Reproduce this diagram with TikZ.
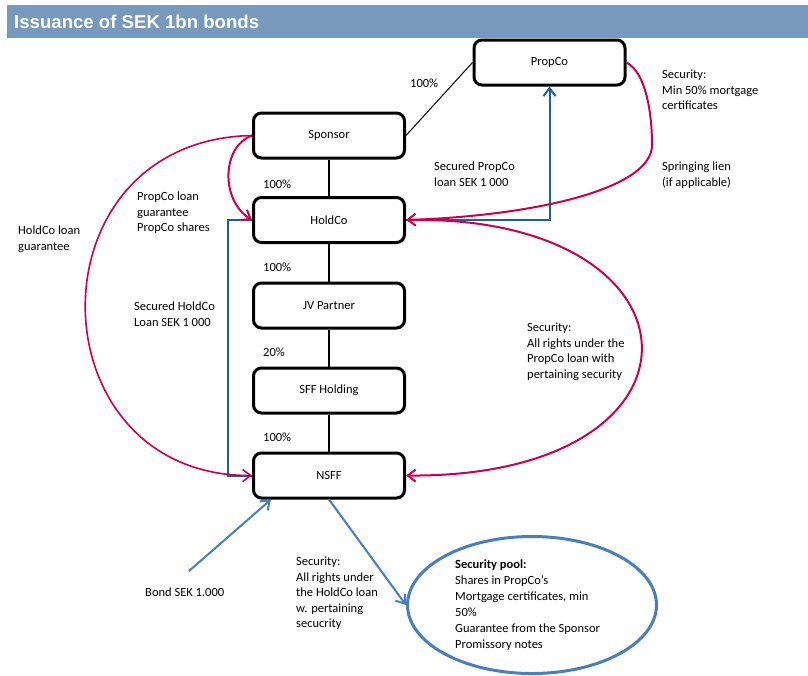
\documentclass[tikz,border=0pt]{standalone}
\usepackage{fontspec}
\setmainfont{Carlito}
\newfontfamily\titlefont{Liberation Sans}
\usetikzlibrary{arrows.meta,shapes.geometric}
\definecolor{barcol}{RGB}{119,153,188}
\definecolor{mag}{RGB}{198,0,80}
\definecolor{dblue}{RGB}{31,96,146}
\definecolor{lblue}{RGB}{74,126,187}
\begin{document}
\begin{tikzpicture}[x=1pt,y=-1pt,
  ent/.style={draw, line width=3pt, rounded corners=8pt, minimum width=151pt,
    minimum height=45pt, inner sep=0pt, font=\fontsize{12.5}{15.5}\selectfont},
  lbl/.style={anchor=north west, align=left, inner sep=0pt,
    font=\fontsize{12.5}{15.5}\selectfont},
  pct/.style={anchor=west, inner sep=0pt, font=\fontsize{12.5}{15.5}\selectfont},
  own/.style={line width=2.2pt},
  tip/.style={-{Straight Barb[length=8pt,width=12pt]}},
  magline/.style={draw=mag, line width=2pt, tip},
  dline/.style={draw=dblue, line width=2pt},
  lline/.style={draw=lblue, line width=2pt, tip}]
\useasboundingbox (0,0) rectangle (808,675);
\clip (0,0) rectangle (808,675);
% title bar
\fill[barcol] (7,5) rectangle (808,38);
\node[anchor=west, inner sep=0pt, text=white,
  font=\titlefont\bfseries\fontsize{18.6}{21}\selectfont] (title) at (14,21.5) {Issuance of SEK 1bn bonds};
% entities
\node[ent] (prop) at (549.5,62.5) {PropCo};
\node[ent] (spon) at (329,135.5) {Sponsor};
\node[ent] (hold) at (329,220) {HoldCo};
\node[ent] (jv) at (329,305.5) {JV Partner};
\node[ent] (sff) at (329,390.5) {SFF Holding};
\node[ent] (nsff) at (329,475.5) {NSFF};
\node[ellipse, draw=lblue, line width=3pt, minimum width=249pt, minimum height=137pt, inner sep=0pt] (pool) at (532,605) {};
% ownership
\draw[own] (spon) -- (hold);
\draw[own] (hold) -- (jv);
\draw[own] (jv) -- (sff);
\draw[own] (sff) -- (nsff);
\draw[line width=1pt] (spon.east) -- (prop.west);
\node[pct] (p0) at (410,83.5) {100\%};
\node[pct] (p1) at (263,184) {100\%};
\node[pct] (p2) at (263,267.5) {100\%};
\node[pct] (p3) at (263,352) {20\%};
\node[pct] (p4) at (263,437) {100\%};
% loans
\draw[dline, tip] (hold.east) -| (prop.south);
\draw[dline] (nsff.west) -- ++(-24,0) |- (hold.west);
% security arrows
\draw[magline] (spon.west) .. controls (222,146) and (220,200) .. (hold.west);
\draw[draw=mag, line width=1.6pt, tip] (spon.west) .. controls (27,140) and (33,476) .. (nsff.west);
\draw[magline] (prop.east) .. controls (645,72) and (652,110) .. (652,145)
  .. controls (652,190) and (530,216) .. (hold.east);
\draw[magline] (hold.east) .. controls (714,213) and (726,478) .. (nsff.east);
% bonds
\coordinate (bondstart) at (189,571);
\draw[lline] (bondstart) -- ([xshift=-58pt]nsff.south);
\draw[lline] (nsff.south) -- (pool.west);
% labels
\node[lbl] (secA) at (662,70) {Security:\\Min 50\% mortgage\\certificates};
\node[lbl] (spring) at (662,162) {Springing lien\\(if applicable)};
\node[lbl] (secPL) at (434,162) {Secured PropCo\\loan SEK 1 000};
\node[lbl] (pcg) at (137,192) {PropCo loan\\guarantee\\PropCo shares};
\node[lbl] (hcg) at (18,226) {HoldCo loan\\guarantee};
\node[lbl] (shl) at (134,302) {Secured HoldCo\\Loan SEK 1 000};
\node[lbl] (secB) at (527,323) {Security:\\All rights under the\\PropCo loan with\\pertaining security};
\node[lbl] (secC) at (296,557) {Security:\\All rights under\\the HoldCo loan\\w. pertaining\\secucrity};
\node[pct] (bond) at (145,592) {Bond SEK 1.000};
\node[lbl, font=\fontsize{12.5}{16}\selectfont] (pooltxt) at (455,560) {\textbf{Security pool:}\\Shares in PropCo’s\\Mortgage certificates, min\\50\%\\Guarantee from the Sponsor\\Promissory notes};
\end{tikzpicture}
\end{document}
